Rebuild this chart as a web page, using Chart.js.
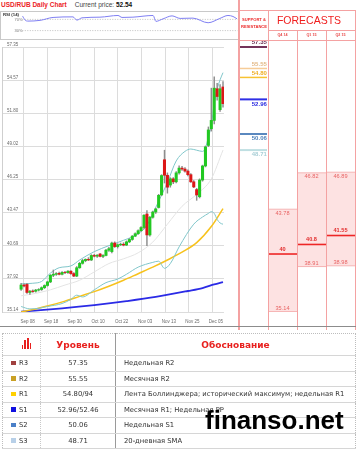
<!DOCTYPE html>
<html lang="ru">
<head>
<meta charset="UTF-8" />
<meta name="viewport" content="width=device-width, initial-scale=1.0"/>
<title>USD/RUB Daily Chart</title>
<script src="https://cdn.jsdelivr.net/npm/chart.js"></script>
<style>
  body { margin: 0; background: #fff; font-family: 'Liberation Sans', Arial, sans-serif; }
  .page { position: relative; width: 359px; height: 450px; overflow: hidden; }
  .abs { position: absolute; }
  canvas.abs { display: block; }

  .title { left: 1px; top: 1px; font-size: 6.5px; line-height: 8px; color: #444; white-space: nowrap; }
  .title .red { color: #ec2326; font-weight: bold; margin-right: 8px; }
  .title .px { color: #111; font-weight: bold; }

  .rsi-box { left: 0; top: 11px; width: 237px; height: 27px; border: 1px solid #c9c9c9; }
  .rsi-label { left: 3px; top: 12px; font-size: 4.3px; line-height: 6px; font-weight: bold; color: #333; }

  .pink { background: #f4a2a2; }
  .sr-head { left: 240px; top: 17px; width: 28px; text-align: center; font-size: 4.1px; line-height: 6.6px; font-weight: bold; color: #ec2a2a; }
  .fc-head { left: 268px; top: 10px; width: 82px; height: 20px; text-align: center; font-size: 10.5px; line-height: 20px; color: #f01e1e; }
  .q { top: 30px; width: 29px; height: 10px; text-align: center; font-size: 3.7px; line-height: 10px; color: #e84848; font-weight: bold; }

  .wm { left: 205px; top: 407px; font: bold 26px/26px 'Liberation Sans', Arial, sans-serif; color: #000; white-space: nowrap; }

  table.lv { position: absolute; left: 2px; top: 333px; width: 353px; border-collapse: collapse; table-layout: fixed;
             font-family: 'DejaVu Sans', sans-serif; font-size: 6.8px; color: #333; border: 1px dotted #bdbdbd; }
  table.lv td { padding: 0; border-bottom: 1px solid #d6d6d6; white-space: nowrap; overflow: hidden; }
  table.lv tr.hd td { height: 21px; font-size: 9px; font-weight: bold; color: #e8201e; text-align: center; }
  table.lv tr.row td { height: 14.5px; }
  table.lv td.c1 { border-right: 1px dotted #c8c8c8; padding-left: 8px; text-align: left; }
  table.lv td.c2 { border-right: 1px solid #9a9a9a; text-align: center; }
  table.lv tr.row td.c3 { padding-left: 8px; }
  .sq { display: inline-block; width: 4.5px; height: 4.5px; margin-right: 3.5px; vertical-align: 0px; }
  .ico { display: inline-flex; align-items: flex-end; height: 11px; gap: 1px; margin-left: 2px; }
  .ico span { display: block; width: 1.6px; background: #e8201e; }
</style>
</head>
<body>
<div class="page">
  <div class="abs title"><span class="red">USD/RUB Daily Chart</span>Current price: <span class="px">52.54</span></div>

  <div class="abs rsi-box"></div>
  <canvas id="rsiChart" class="abs" width="238" height="28" style="left:0;top:11px"></canvas>
  <div class="abs rsi-label">RSI (14)</div>

  <canvas id="mainChart" class="abs" width="238" height="287" style="left:0;top:40px"></canvas>
  <canvas id="fcChart" class="abs" width="116" height="295" style="left:239px;top:35px"></canvas>

  <!-- right panel frame -->
  <div class="abs pink" style="left:238px;top:0;width:1.6px;height:330px"></div>
  <div class="abs pink" style="left:239px;top:10px;width:117px;height:1px"></div>
  <div class="abs pink" style="left:239px;top:40px;width:117px;height:1px"></div>
  <div class="abs pink" style="left:268px;top:30px;width:88px;height:1px"></div>
  <div class="abs pink" style="left:268px;top:10px;width:1px;height:320px"></div>
  <div class="abs pink" style="left:297px;top:30px;width:1px;height:300px"></div>
  <div class="abs pink" style="left:326px;top:30px;width:1px;height:300px"></div>
  <div class="abs pink" style="left:355px;top:10px;width:1px;height:320px"></div>
  <div class="abs" style="left:0;top:326px;width:356px;height:1px;background:#8c8c8c"></div>

  <div class="abs sr-head">SUPPORT &amp;<br>RESISTANCE</div>
  <div class="abs fc-head">FORECASTS</div>
  <div id="qHeads"></div>

  <table class="lv" id="levels">
    <colgroup><col style="width:38px"><col style="width:75px"><col style="width:240px"></colgroup>
    <tr class="hd">
      <td class="c1"><span class="ico"><span style="height:4px"></span><span style="height:9px"></span><span style="height:11px"></span><span style="height:6px"></span></span></td>
      <td class="c2">Уровень</td>
      <td class="c3">Обоснование</td>
    </tr>
  </table>

  <div class="abs wm">finanso.net</div>
</div>

<script>
  // ---------- data ----------
  // daily candles, Sep 04 .. Dec 09 (index = trading day)
  const opens  = [37.05,37.40,37.45,36.78,36.90,36.88,36.98,37.02,37.18,37.36,
                  37.66,38.22,38.30,38.38,38.30,38.46,38.44,38.56,38.36,38.15,
                  38.85,39.22,39.45,39.55,39.50,39.88,39.82,40.00,39.80,39.88,
                  40.32,40.20,40.92,40.62,40.78,40.82,40.75,41.02,41.22,41.50,
                  41.70,41.95,42.22,43.35,41.60,43.08,43.52,43.90,44.95,47.90,
                  46.60,45.78,46.30,46.05,46.80,47.20,47.12,46.95,46.65,46.05,
                  45.40,44.80,46.20,47.38,49.10,50.50,51.20,53.85,52.10,54.00];
  const highs  = [37.55,37.50,37.55,36.95,37.00,37.05,37.10,37.25,37.42,37.72,
                  38.28,38.66,38.45,38.48,38.52,38.55,38.62,38.62,38.45,38.95,
                  39.30,39.55,39.60,39.70,39.95,39.98,39.95,40.05,39.95,40.40,
                  40.55,41.00,41.02,40.85,40.92,40.95,41.10,41.30,41.55,41.78,
                  42.02,42.30,43.30,43.65,43.15,43.60,43.85,45.00,46.65,48.70,
                  46.80,46.40,46.40,46.90,47.40,47.35,47.25,47.05,46.75,46.15,
                  45.50,46.30,47.45,49.05,50.65,53.90,54.86,54.30,54.20,54.45];
  const lows   = [36.95,37.25,36.70,36.62,36.78,36.80,36.90,36.95,37.10,37.30,
                  37.60,38.10,38.20,38.25,38.25,38.35,38.38,38.30,38.10,38.10,
                  38.80,39.15,39.35,39.45,39.45,39.75,39.72,39.75,39.70,39.85,
                  40.22,40.10,40.55,40.50,40.70,40.68,40.70,40.95,41.15,41.45,
                  41.65,41.90,42.10,40.70,41.50,43.00,43.40,43.85,44.90,45.95,
                  45.10,45.60,45.90,45.95,46.70,47.00,46.85,46.55,46.00,45.55,
                  44.50,44.70,46.10,47.30,49.00,50.30,50.90,52.90,51.95,52.30];
  const closes = [37.40,37.32,36.78,36.88,36.85,36.98,37.02,37.18,37.36,37.66,
                  38.22,38.30,38.36,38.30,38.46,38.44,38.56,38.36,38.15,38.85,
                  39.22,39.45,39.55,39.50,39.88,39.82,39.90,39.80,39.88,40.32,
                  40.45,40.92,40.62,40.78,40.82,40.75,41.02,41.22,41.50,41.70,
                  41.95,42.22,43.25,41.60,43.08,43.52,43.78,44.92,46.58,46.60,
                  45.60,46.30,46.05,46.80,47.20,47.12,46.95,46.65,46.05,45.62,
                  44.95,46.20,47.38,48.98,50.40,51.20,53.90,53.20,53.85,52.60];

  // indicator lines, read at the day indexes given in the *X arrays
  const bbUpperX = [0,4,7,10,13,17,20,25,30,35,40,43,46,50,53,56,58,60,62,63,64,65,66,67,68,69];
  const bbUpper  = [37.5,37.55,37.7,38.4,38.85,39.0,39.5,40.2,40.7,41.15,41.7,42.4,43.9,46.0,47.8,48.6,48.8,48.7,48.6,48.9,49.8,50.8,52.6,53.8,54.6,55.2];
  const bbLowerX = [0,3,6,9,14,17,19,21,25,29,33,36,40,45,47,49,51,54,59,62,64,65,66,67,68,69];
  const bbLower  = [35.6,35.4,35.45,35.6,35.85,36.2,36.55,36.4,37.0,37.6,37.9,38.3,38.9,39.3,39.4,38.8,39.2,40.6,42.5,43.1,43.4,43.55,43.4,42.9,42.6,42.5];
  const sma20X   = [0,5,10,15,20,25,30,35,40,45,50,55,60,65,69];
  const sma20    = [36.5,36.7,37.0,37.4,37.8,38.5,39.2,39.6,40.1,41.0,42.5,44.0,45.0,46.3,48.71];
  const sma50X   = [0,5,10,15,20,25,30,35,40,45,50,55,60,65,69];
  const sma50    = [35.15,35.4,35.7,36.05,36.45,36.85,37.3,37.8,38.35,38.9,39.5,40.15,40.95,42.3,43.8];
  const sma200X  = [0,14,25,36,46,57,62,66,69];
  const sma200   = [35.17,35.45,35.72,36.05,36.4,36.9,37.15,37.45,37.65];

  const rsiX = [0.1,0.9,1.8,5.7,9.9,16.3,17.6,19.2,25,30.8,32.1,35.6,42.1,43,45.3,48.2,50.8,54.9,59.8,63.6,66.2,67.8,69.1];
  const rsi  = [81.6,67.5,64,66.5,77,79,67.5,75.6,78,84,77,78,84,63,72,82.6,73.5,74.6,58,73.5,84,80.5,72];
  const rsiLevels = [30, 70];

  const yTicks = [35.14, 37.92, 40.69, 43.47, 46.25, 49.02, 51.80, 54.57, 57.35];
  const xTickLabels = ['Sep 08','Sep 18','Sep 30','Oct 10','Oct 22','Nov 03','Nov 13','Nov 25','Dec 05'];

  const srLevels = [57.35, 55.55, 54.80, 52.96, 50.06, 48.71];

  const fcLabels = ['Q4 14', 'Q1 15', 'Q2 15'];
  const fcHigh = [43.78, 46.82, 46.89];
  const fcMid  = [40, 40.8, 41.55];
  const fcLow  = [35.14, 38.91, 38.98];

  const levelNames = ['R3', 'R2', 'R1', 'S1', 'S2', 'S3'];
  const levelText  = ['57.35', '55.55', '54.80/94', '52.96/52.46', '50.06', '48.71'];
  const levelNotes = ['Недельная R2', 'Месячная R2',
                      'Лента Боллинджера; исторический максимум; недельная R1',
                      'Месячная R1; Недельная PP', 'Недельная S1', '20-дневная SMA'];

  // ---------- styles ----------
  const GREEN = '#22c822', RED = '#dc1717';
  const srLineColors = ['#74345a', '#f6cc98', '#f7c232', '#2f2fe6', '#5a88bf', '#bfdfe2'];
  const srTextColors = ['#6c2f52', '#e3b987', '#efae24', '#2a2ae0', '#4f82bb', '#a9cfd6'];
  const srLineWidths = [2, 1.5, 1.5, 2, 2, 2];
  const tableSquares = ['#a0403f', '#c9a024', '#ffd000', '#1010e0', '#4a80c8', '#b8d0e8'];

  Chart.defaults.font.family = "'Liberation Sans', Arial, sans-serif";
  Chart.defaults.animation = false;
  Chart.defaults.plugins.legend.display = false;
  Chart.defaults.plugins.tooltip.enabled = false;

  // pixel layout of the price panel: first candle at x=22.3, 3.107px per day
  const PX0 = 22.3, STEP = 3.107;
  const xMin = (2 - PX0) / STEP;
  const xMax = (237.7 - PX0) / STEP;
  const xGrid = xTickLabels.map((_, i) => (37.6 + 25 * i - PX0) / STEP);

  const pts = (xs, ys) => xs.map((x, i) => ({ x, y: ys[i] }));
  const line = (xs, ys, color, width, order) => ({
    type: 'line', data: pts(xs, ys), borderColor: color, borderWidth: width,
    pointRadius: 0, cubicInterpolationMode: 'monotone', order
  });
  // keep the mirrored tick labels from pushing the plot area inwards
  const flatAxis = s => { s.width = 0; s.paddingTop = 0; s.paddingBottom = 0; };

  // ---------- RSI panel ----------
  new Chart(document.getElementById('rsiChart'), {
    type: 'line',
    data: {
      datasets: [
        line(rsiX, rsi, '#7f7ff2', 1, 0),
        ...rsiLevels.map(v => ({
          data: [{ x: 0, y: v }, { x: xMax, y: v }], borderColor: '#b0b0b0', borderWidth: 0.8,
          borderDash: [1, 1.5], pointRadius: 0, order: 1
        }))
      ]
    },
    options: {
      responsive: false,
      layout: { padding: { left: 2, right: 0.3, top: 0, bottom: 0 } },
      scales: {
        x: { type: 'linear', min: xMin, max: xMax, display: false },
        y: {
          min: 0, max: 100,
          afterBuildTicks: s => { s.ticks = rsiLevels.map(v => ({ value: v })); },
          afterFit: flatAxis,
          ticks: { mirror: true, padding: 12.5, color: '#777', font: { size: 4 }, callback: v => v + '%' },
          grid: { display: false },
          border: { display: false }
        }
      }
    }
  });

  // ---------- price panel ----------
  new Chart(document.getElementById('mainChart'), {
    type: 'bar',
    data: {
      datasets: [
        {
          type: 'bar',
          data: closes.map((c, i) => ({ x: i, y: [opens[i], c] })),
          backgroundColor: closes.map((c, i) => c >= opens[i] ? GREEN : RED),
          barThickness: 2.4, grouped: false, order: 0
        },
        {
          type: 'bar',
          data: highs.map((h, i) => ({ x: i, y: [lows[i], h] })),
          backgroundColor: '#8d8d8d',
          barThickness: 0.8, grouped: false, order: 1
        },
        line(bbUpperX, bbUpper, '#80c6ca', 1, 2),
        line(bbLowerX, bbLower, '#80c6ca', 1, 2),
        line(sma20X, sma20, '#e4e4e4', 1, 3),
        line(sma50X, sma50, '#f7c21c', 1.5, 2),
        line(sma200X, sma200, '#2b2be6', 1.8, 2)
      ]
    },
    options: {
      responsive: false,
      layout: { padding: { left: 2, right: 0.3, top: 7, bottom: 0 } },
      scales: {
        x: {
          type: 'linear', min: xMin, max: xMax, offset: false,
          afterBuildTicks: s => { s.ticks = xGrid.map(v => ({ value: v })); },
          afterFit: s => { s.height = 15; },
          ticks: { autoSkip: false, maxRotation: 0, padding: 7, labelOffset: -8, color: '#6a6a6a',
                   font: { size: 4.5 }, callback: (v, i) => xTickLabels[i] },
          grid: { color: '#dcdcdc', drawTicks: false },
          border: { display: false }
        },
        y: {
          type: 'linear', min: yTicks[0], max: yTicks[yTicks.length - 1],
          afterBuildTicks: s => { s.ticks = yTicks.map(v => ({ value: v })); },
          afterFit: flatAxis,
          ticks: { mirror: true, padding: 5, labelOffset: -2.5, color: '#6a6a6a',
                   font: { size: 4.5 }, callback: v => v.toFixed(2) },
          grid: { color: '#dcdcdc', drawTicks: false },
          border: { display: true, color: '#cfcfcf' }
        }
      }
    }
  });

  // ---------- support / resistance + forecasts ----------
  const panelMarks = {
    id: 'panelMarks',
    afterDatasetsDraw(chart) {
      const { ctx, scales: { x, y } } = chart;
      const half = (x.getPixelForValue(1) - x.getPixelForValue(0)) / 2;
      const c0 = x.getPixelForValue(0);
      const last = closes[closes.length - 1];
      ctx.save();
      ctx.textBaseline = 'middle';
      srLevels.forEach((v, i) => {
        const py = y.getPixelForValue(v);
        ctx.strokeStyle = srLineColors[i];
        ctx.lineWidth = srLineWidths[i];
        ctx.beginPath();
        ctx.moveTo(c0 - half + 1, py);
        ctx.lineTo(c0 + half - 1, py);
        ctx.stroke();
        ctx.fillStyle = srTextColors[i];
        ctx.font = "bold 6px 'Liberation Sans', Arial, sans-serif";
        ctx.textAlign = 'right';
        // resistances get their label above the line, supports below
        ctx.fillText(v.toFixed(2), c0 + half - 1.2, py + (v > last + 1 ? -4.3 : 4.6));
      });
      fcMid.forEach((v, i) => {
        const cx = x.getPixelForValue(i + 1);
        const pm = y.getPixelForValue(v);
        ctx.strokeStyle = '#ee2626';
        ctx.lineWidth = 1.6;
        ctx.beginPath();
        ctx.moveTo(cx - half, pm);
        ctx.lineTo(cx + half, pm);
        ctx.stroke();
        ctx.textAlign = 'center';
        ctx.fillStyle = '#e22c2c';
        ctx.font = "bold 5.6px 'Liberation Sans', Arial, sans-serif";
        ctx.fillText(String(v), cx, pm - 4.8);
        ctx.fillStyle = '#e86464';
        ctx.font = "5.6px 'Liberation Sans', Arial, sans-serif";
        ctx.fillText(fcHigh[i].toFixed(2), cx, y.getPixelForValue(fcHigh[i]) + 4.3);
        ctx.fillText(fcLow[i].toFixed(2), cx, y.getPixelForValue(fcLow[i]) - 4);
      });
      ctx.restore();
    }
  };

  new Chart(document.getElementById('fcChart'), {
    type: 'bar',
    data: {
      labels: ['S&R', ...fcLabels],
      datasets: [{
        data: [null, ...fcLow.map((lo, i) => [lo, fcHigh[i]])],
        backgroundColor: '#fde2e2',
        borderColor: '#f3a7a7',
        borderWidth: { top: 1, bottom: 1, left: 0, right: 0 },
        borderSkipped: false,
        barPercentage: 1, categoryPercentage: 1
      }]
    },
    options: {
      responsive: false,
      layout: { padding: { left: 0, right: 0, top: 12, bottom: 18 } },
      scales: {
        x: { display: false },
        y: { display: false, min: yTicks[0], max: yTicks[yTicks.length - 1] }
      }
    },
    plugins: [panelMarks]
  });

  // column headers
  const qHeads = document.getElementById('qHeads');
  fcLabels.forEach((t, i) => {
    const d = document.createElement('div');
    d.className = 'abs q';
    d.style.left = (268 + 29 * i) + 'px';
    d.innerText = t;
    qHeads.appendChild(d);
  });

  // levels table
  const table = document.getElementById('levels');
  levelNames.forEach((n, i) => {
    const tr = document.createElement('tr');
    tr.className = 'row';
    tr.innerHTML = `<td class="c1"><span class="sq" style="background:${tableSquares[i]}"></span>${n}</td>` +
                   `<td class="c2">${levelText[i]}</td><td class="c3">${levelNotes[i]}</td>`;
    table.appendChild(tr);
  });
</script>
</body>
</html>
